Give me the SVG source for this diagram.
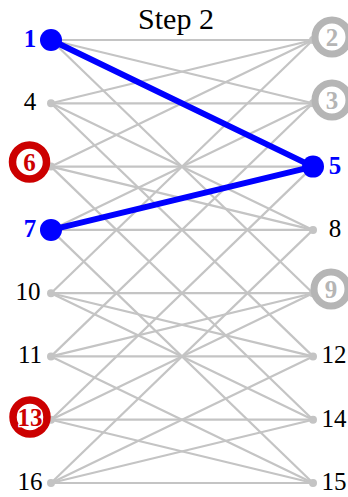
<svg xmlns="http://www.w3.org/2000/svg" width="348" height="497" viewBox="0 0 348 497">
<style>
.e{stroke:#c4c4c4;stroke-width:2.2;fill:none}
.b{stroke:#0000ff;stroke-width:6;fill:none;stroke-linecap:round}
.d{fill:#c4c4c4}
.bd{fill:#0000ff}
text{font-family:'Liberation Serif','Times New Roman',serif;font-size:25px;text-anchor:middle}
.title{font-size:30px;fill:#000}
.t{fill:#000}
.bt{font-weight:bold;fill:#0000ff}
.rr{fill:#fff;stroke:#cc0000;stroke-width:7.5}
.gr{fill:#fff;stroke:#b5b5b5;stroke-width:7}
.rt{font-weight:bold;fill:#cc0000;stroke:#fff;stroke-width:2.5;paint-order:stroke}
.gt{font-weight:bold;fill:#b5b5b5}
</style>
<text class="title" x="176" y="29">Step 2</text>
<g id="connectors">
<line class="e" x1="51" y1="40" x2="313" y2="40"/>
<line class="e" x1="51" y1="40" x2="313" y2="103.3"/>
<line class="e" x1="51" y1="40" x2="313" y2="293.2"/>
<line class="e" x1="51" y1="103.3" x2="313" y2="103.3"/>
<line class="e" x1="51" y1="103.3" x2="313" y2="40"/>
<line class="e" x1="51" y1="103.3" x2="313" y2="229.9"/>
<line class="e" x1="51" y1="103.3" x2="313" y2="356.4"/>
<line class="e" x1="51" y1="166.6" x2="313" y2="166.6"/>
<line class="e" x1="51" y1="166.6" x2="313" y2="229.9"/>
<line class="e" x1="51" y1="166.6" x2="313" y2="40"/>
<line class="e" x1="51" y1="166.6" x2="313" y2="419.7"/>
<line class="e" x1="51" y1="229.9" x2="313" y2="229.9"/>
<line class="e" x1="51" y1="229.9" x2="313" y2="103.3"/>
<line class="e" x1="51" y1="229.9" x2="313" y2="483"/>
<line class="e" x1="51" y1="293.2" x2="313" y2="293.2"/>
<line class="e" x1="51" y1="293.2" x2="313" y2="356.4"/>
<line class="e" x1="51" y1="293.2" x2="313" y2="419.7"/>
<line class="e" x1="51" y1="293.2" x2="313" y2="40"/>
<line class="e" x1="51" y1="356.4" x2="313" y2="356.4"/>
<line class="e" x1="51" y1="356.4" x2="313" y2="293.2"/>
<line class="e" x1="51" y1="356.4" x2="313" y2="483"/>
<line class="e" x1="51" y1="356.4" x2="313" y2="103.3"/>
<line class="e" x1="51" y1="419.7" x2="313" y2="419.7"/>
<line class="e" x1="51" y1="419.7" x2="313" y2="483"/>
<line class="e" x1="51" y1="419.7" x2="313" y2="293.2"/>
<line class="e" x1="51" y1="419.7" x2="313" y2="166.6"/>
<line class="e" x1="51" y1="483" x2="313" y2="483"/>
<line class="e" x1="51" y1="483" x2="313" y2="419.7"/>
<line class="e" x1="51" y1="483" x2="313" y2="356.4"/>
<line class="e" x1="51" y1="483" x2="313" y2="229.9"/>
<line class="b" x1="51" y1="40" x2="313" y2="166.6"/>
<line class="b" x1="51" y1="229.9" x2="313" y2="166.6"/>
</g>
<g id="n1"><circle class="bd" cx="51" cy="40" r="11"/><text class="bt" x="30" y="47">1</text></g>
<g id="n4"><circle class="d" cx="51" cy="103.3" r="4"/><text class="t" x="30" y="110">4</text></g>
<g id="n6"><circle class="d" cx="51" cy="166.6" r="4"/><circle class="rr" cx="29.5" cy="162" r="17"/><text class="rt" x="29.5" y="171">6</text></g>
<g id="n7"><circle class="bd" cx="51" cy="229.9" r="11"/><text class="bt" x="30" y="237">7</text></g>
<g id="n10"><circle class="d" cx="51" cy="293.2" r="4"/><text class="t" x="28" y="300">10</text></g>
<g id="n11"><circle class="d" cx="51" cy="356.4" r="4"/><text class="t" x="30" y="363">11</text></g>
<g id="n13"><circle class="d" cx="51" cy="419.7" r="4"/><circle class="rr" cx="30" cy="417" r="17"/><text class="rt" x="30" y="426">13</text></g>
<g id="n16"><circle class="d" cx="51" cy="483" r="4"/><text class="t" x="30" y="490">16</text></g>
<g id="n2"><circle class="d" cx="313" cy="40" r="4"/><circle class="gr" cx="332" cy="37" r="17"/><text class="gt" x="332" y="46">2</text></g>
<g id="n3"><circle class="d" cx="313" cy="103.3" r="4"/><circle class="gr" cx="332" cy="100" r="17"/><text class="gt" x="332" y="109">3</text></g>
<g id="n5"><circle class="bd" cx="313" cy="166.6" r="11"/><text class="bt" x="335" y="174">5</text></g>
<g id="n8"><circle class="d" cx="313" cy="229.9" r="4"/><text class="t" x="335" y="237">8</text></g>
<g id="n9"><circle class="d" cx="313" cy="293.2" r="4"/><circle class="gr" cx="331" cy="289" r="17"/><text class="gt" x="331" y="298">9</text></g>
<g id="n12"><circle class="d" cx="313" cy="356.4" r="4"/><text class="t" x="334" y="363">12</text></g>
<g id="n14"><circle class="d" cx="313" cy="419.7" r="4"/><text class="t" x="334" y="427">14</text></g>
<g id="n15"><circle class="d" cx="313" cy="483" r="4"/><text class="t" x="334" y="490">15</text></g>
</svg>
